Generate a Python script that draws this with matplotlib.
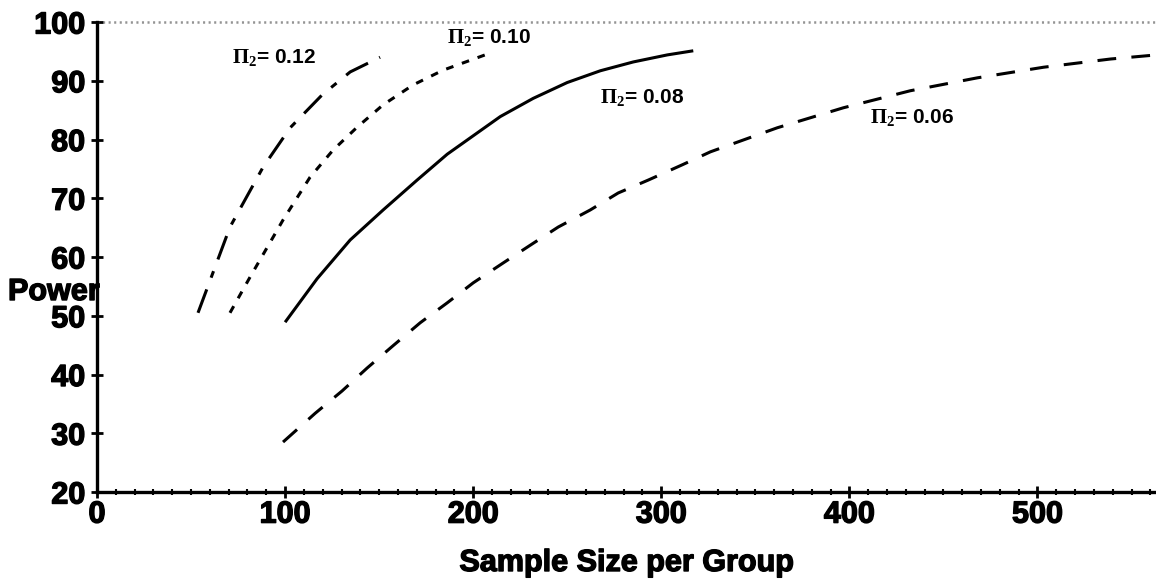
import matplotlib
matplotlib.use("Agg")
import matplotlib.pyplot as plt
import matplotlib.patheffects as pe
from matplotlib.ticker import MultipleLocator

plt.rcParams['font.family'] = ['Liberation Sans', 'DejaVu Sans']
plt.rcParams['lines.scale_dashes'] = False
plt.rcParams['mathtext.fontset'] = 'custom'
plt.rcParams['mathtext.rm'] = 'Liberation Serif:bold'
plt.rcParams['mathtext.it'] = 'Liberation Serif:bold'
plt.rcParams['mathtext.bf'] = 'Liberation Serif:bold'

# ---- data ----
n_012 = [53.7, 70.7, 88.3, 102.7, 119.7, 134.6, 150.5]
p_012 = [50.5, 65.1, 75.3, 82.0, 87.6, 91.5, 94.0]

n_010 = [70.7, 81.4, 98.9, 113.3, 125.5, 138.3, 152.1, 168.1, 184.0, 210.6]
p_010 = [50.5, 56.6, 66.3, 73.6, 78.2, 82.1, 85.9, 89.3, 91.8, 94.9]

n_008 = [100.0, 117.0, 134.6, 152.1, 170.2, 186.2, 214.4, 231.9, 250.0, 267.6, 285.1, 303.2, 317.0]
p_008 = [48.9, 56.3, 62.9, 68.0, 73.1, 77.5, 83.9, 87.0, 89.7, 91.7, 93.2, 94.4, 95.1]

n_006 = [98.9, 116.0, 130.3, 143.6, 157.4, 171.8, 186.2, 200.0, 216.0, 230.3, 245.2,
         262.2, 277.1, 293.1, 311.2, 326.1, 361.7, 396.8, 432.4, 468.1, 503.2, 538.8, 563.3]
p_006 = [28.5, 33.4, 37.2, 41.1, 44.9, 48.8, 52.2, 55.6, 59.0, 62.0, 65.1,
         68.0, 70.9, 73.1, 75.7, 77.9, 82.0, 85.4, 88.3, 90.5, 92.3, 93.7, 94.4]

label_text = ['0.12', '0.10', '0.08', '0.06']
label_x = [71.8, 186.2, 267.6, 411.2]
label_y = [94.0, 97.3, 87.1, 83.8]

x_ticks = [0, 100, 200, 300, 400, 500]
y_ticks = [20, 30, 40, 50, 60, 70, 80, 90, 100]

# ---- figure ----
W, H = 1156, 584
fig = plt.figure(figsize=(W / 100, H / 100), dpi=100)
ax = fig.add_axes([97 / W, 1 - 492 / H, (W - 97) / W, 470 / H])

lw = 2.2
ax.plot(n_012, p_012, color='black', lw=lw, dashes=(18, 9, 5, 9))
ax.plot(n_010, p_010, color='black', lw=lw, dashes=(5.5, 6.5))
ax.plot(n_008, p_008, color='black', lw=lw, solid_capstyle='butt', solid_joinstyle='round')
ax.plot(n_006, p_006, color='black', lw=lw, dashes=(13.5, 11))

# faint dotted rule along the top (scan artefact of the frame)
ax.axhline(100, color='0.3', lw=1.8, dashes=(1.5, 2.5), alpha=0.6, clip_on=False)

heavy = [pe.withStroke(linewidth=1.0, foreground='black')]

for t, x, y in zip(label_text, label_x, label_y):
    ax.text(x, y, r'$\Pi_2$= ' + t, fontsize=15, fontweight='bold',
            ha='left', va='center', color='black')

ax.set_xlim(0, 563)
ax.set_ylim(20, 100)
ax.set_xticks(x_ticks)
ax.set_yticks(y_ticks)
ax.xaxis.set_minor_locator(MultipleLocator(10))

for s in ['top', 'right']:
    ax.spines[s].set_visible(False)
for s in ['left', 'bottom']:
    ax.spines[s].set_linewidth(2.4)
    ax.spines[s].set_color('black')

ax.tick_params(axis='both', which='major', direction='inout', length=9, width=2,
               labelsize=22, pad=4, colors='black')
ax.tick_params(axis='x', which='minor', direction='inout', length=5, width=1.5)
ax.tick_params(axis='x', which='major', pad=1)
for lab in ax.get_xticklabels() + ax.get_yticklabels():
    lab.set_fontweight('bold')
    lab.set_path_effects(heavy)

fig.text(8 / W, 1 - 292 / H, 'Power', fontsize=22, fontweight='bold',
         ha='left', va='center', zorder=5, path_effects=heavy)
fig.text((97 + W) / 2 / W, 1 - 563 / H, 'Sample Size per Group', fontsize=22,
         fontweight='bold', ha='center', va='center', path_effects=heavy)

fig.savefig('out.png', dpi=100)
